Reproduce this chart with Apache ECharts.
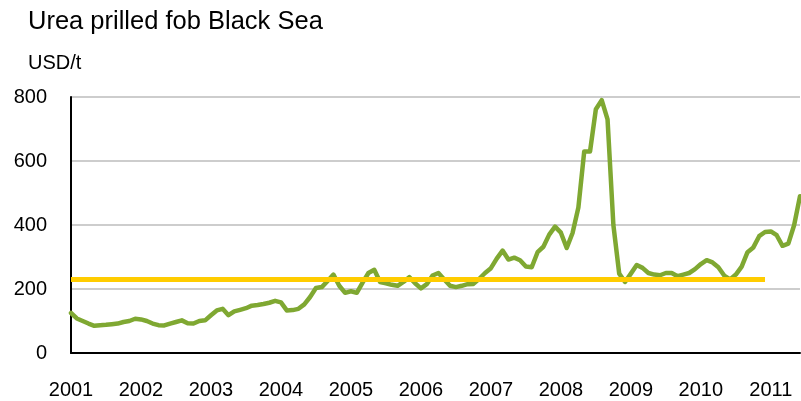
<!DOCTYPE html>
<html>
<head>
<meta charset="utf-8">
<script src="https://cdn.jsdelivr.net/npm/echarts@6/dist/echarts.min.js"></script>
<style>
  html, body { margin: 0; padding: 0; background: #ffffff; }
  #chart { width: 801px; height: 401px; }
</style>
</head>
<body>
<div id="chart"></div>
<script>
// Monthly urea prilled fob Black Sea prices, USD/t
const years = [2001, 2002, 2003, 2004, 2005, 2006, 2007, 2008, 2009, 2010, 2011];
const price2001 = [125, 108, 100, 92, 85, 87, 88, 90, 92, 97, 100, 107];
const price2002 = [105, 100, 92, 87, 86, 92, 97, 102, 93, 92, 100, 102];
const price2003 = [118, 133, 138, 118, 130, 135, 140, 148, 150, 153, 157, 163];
const price2004 = [158, 133, 134, 138, 152, 175, 203, 206, 225, 245, 210, 188];
const price2005 = [193, 188, 220, 250, 260, 222, 218, 213, 210, 222, 237, 218];
const price2006 = [202, 215, 242, 250, 230, 210, 206, 210, 215, 216, 232, 250];
const price2007 = [265, 295, 320, 292, 298, 290, 270, 268, 315, 332, 370, 395];
const price2008 = [376, 328, 375, 455, 630, 630, 762, 790, 730, 400, 248, 222];
const price2009 = [248, 275, 266, 250, 245, 243, 250, 250, 240, 245, 250, 262];
const price2010 = [278, 290, 283, 268, 242, 230, 245, 270, 315, 330, 365, 378];
const price2011 = [380, 368, 335, 342, 400, 490];

// Ten-year average level (2001-2010)
const averageLevel = 231;
const averageStart = '2001-01';
const averageEnd = '2010-12';

const yMin = 0, yMax = 800, yStep = 200;

const pricesByYear = [price2001, price2002, price2003, price2004, price2005, price2006,
                      price2007, price2008, price2009, price2010, price2011];

const months = [];
const prices = [];
pricesByYear.forEach((arr, i) => {
  arr.forEach((v, j) => {
    months.push(years[i] + '-' + String(j + 1).padStart(2, '0'));
    prices.push(v);
  });
});

const FONT = "'Liberation Sans', Arial, sans-serif";
const chart = echarts.init(document.getElementById('chart'), null, { renderer: 'canvas' });

chart.setOption({
  animation: false,
  backgroundColor: '#ffffff',
  title: [
    {
      text: 'Urea prilled fob Black Sea',
      left: 28, top: 9, padding: 0,
      textStyle: { fontFamily: FONT, fontSize: 25.5, fontWeight: 'normal', color: '#000000' }
    },
    {
      text: 'USD/t',
      left: 28, top: 53, padding: 0,
      textStyle: { fontFamily: FONT, fontSize: 20, fontWeight: 'normal', color: '#000000' }
    }
  ],
  grid: { left: 71, right: 1, top: 97, bottom: 48, containLabel: false },
  xAxis: {
    type: 'category',
    data: months,
    boundaryGap: false,
    axisLine: { show: true, lineStyle: { color: '#000000', width: 2 } },
    axisTick: { show: false },
    splitLine: { show: false },
    axisLabel: {
      interval: 11,
      margin: 27,
      fontFamily: FONT,
      fontSize: 20,
      color: '#000000',
      formatter: v => v.slice(0, 4)
    }
  },
  yAxis: {
    type: 'value',
    min: yMin, max: yMax, interval: yStep,
    axisLine: { show: true, lineStyle: { color: '#000000', width: 2 } },
    axisTick: { show: false },
    splitLine: { show: true, lineStyle: { color: '#bcbcbc', width: 1.5 } },
    axisLabel: { margin: 24, fontFamily: FONT, fontSize: 20, color: '#000000' }
  },
  series: [
    {
      name: 'Urea prilled fob Black Sea',
      type: 'line',
      data: prices,
      symbol: 'none',
      smooth: false,
      z: 2,
      lineStyle: { color: '#7fa832', width: 4.5, cap: 'round', join: 'round' },
      markLine: {
        silent: true,
        symbol: 'none',
        z: 5,
        label: { show: false },
        lineStyle: { color: '#ffcc00', width: 5, type: 'solid', cap: 'butt' },
        data: [[
          { coord: [averageStart, averageLevel] },
          { coord: [averageEnd, averageLevel] }
        ]]
      }
    }
  ]
});
</script>
</body>
</html>
